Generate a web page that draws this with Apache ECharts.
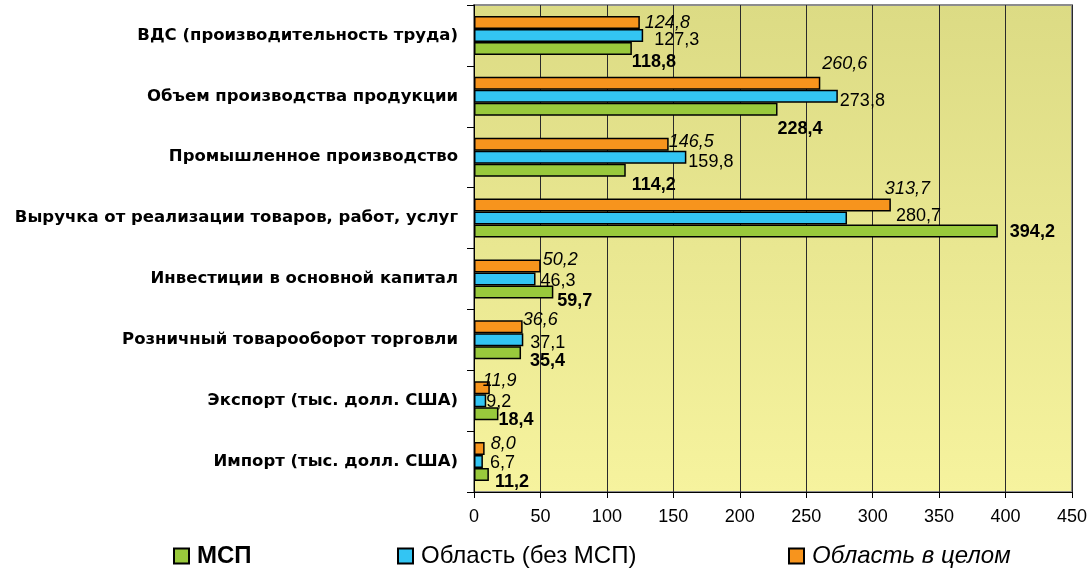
<!DOCTYPE html>
<html><head><meta charset="utf-8">
<script src="https://cdn.jsdelivr.net/npm/echarts@6/dist/echarts.min.js"></script>
<style>html,body{margin:0;padding:0;background:#fff}#c{width:1091px;height:568px}</style>
</head><body><div id="c"></div>
<script>
const categories = [
  'ВДС (производительность труда)',
  'Объем производства продукции',
  'Промышленное производство',
  'Выручка от реализации товаров, работ, услуг',
  'Инвестиции в основной капитал',
  'Розничный товарооборот торговли',
  'Экспорт (тыс. долл. США)',
  'Импорт (тыс. долл. США)'
];
const seriesNames = ['МСП', 'Область (без МСП)', 'Область в целом'];
const msp = [118.8, 228.4, 114.2, 394.2, 59.7, 35.4, 18.4, 11.2];
const regionNoMsp = [127.3, 273.8, 159.8, 280.7, 46.3, 37.1, 9.2, 6.7];
const regionTotal = [124.8, 260.6, 146.5, 313.7, 50.2, 36.6, 11.9, 8.0];
const xTicks = [0, 50, 100, 150, 200, 250, 300, 350, 400, 450];

// label placement tweaks (pixels), as in the original chart
const offsMsp = [[0, 14], [0, 20], [6, 15], [12, 1], [4, 9], [9, 8], [0, 6], [6, 7]];
const offsNoMsp = [[11, 5], [2, 5], [2, 5], [49, -2], [5, 2], [7, 3], [0, 1], [7, 1]];
const offsTotal = [[5, 1], [2, -19], [0, -2], [-6, -16], [2, -6], [0, -7], [-7, -7], [6, -5]];

const fmt = v => v.toFixed(1).replace('.', ',');
const font = '"Liberation Sans", Arial, sans-serif';

const mk = (values, offs) => values.map((v, i) => ({ value: v, label: { offset: offs[i] } }));

const chart = echarts.init(document.getElementById('c'));
const legendBase = (name, left, extra) => ({
  data: [name], left: left, top: 539,
  itemWidth: 15, itemHeight: 15, itemGap: 6, icon: 'rect',
  textStyle: Object.assign({ fontSize: 24, color: '#000', fontFamily: font, padding: [0, 0, 0, 3] }, extra || {})
});
chart.setOption({
  animation: false,
  textStyle: { fontFamily: font },
  grid: {
    left: 474, right: 19, top: 5, bottom: 76,
    show: true,
    borderColor: '#8c8c8c', borderWidth: 2,
    backgroundColor: new echarts.graphic.LinearGradient(0, 0, 0, 1, [
      { offset: 0, color: '#dcdb84' },
      { offset: 1, color: '#f6f39e' }
    ])
  },
  legend: [
    legendBase(seriesNames[0], 168, { fontWeight: 'bold' }),
    legendBase(seriesNames[1], 392),
    legendBase(seriesNames[2], 783, { fontStyle: 'italic' })
  ],
  xAxis: {
    type: 'value', min: xTicks[0], max: xTicks[xTicks.length - 1], interval: xTicks[1] - xTicks[0],
    axisLine: { show: true, lineStyle: { color: '#000', width: 1 } },
    axisTick: { show: true, length: 6, lineStyle: { color: '#000' } },
    axisLabel: { fontSize: 18, color: '#000', margin: 16, formatter: v => String(v) },
    splitLine: { show: true, lineStyle: { color: '#2a2a2a', width: 1 } }
  },
  yAxis: {
    type: 'category', data: categories, inverse: true,
    axisLine: { show: true, lineStyle: { color: '#000', width: 1 } },
    axisTick: { show: true, length: 7, lineStyle: { color: '#000' } },
    axisLabel: { fontSize: 16.5, fontWeight: 'bold', color: '#000', margin: 16, fontFamily: 'DejaVu Sans', padding: [6, 0, 0, 0] }
  },
  series: [
    {
      name: seriesNames[2], type: 'bar', data: mk(regionTotal, offsTotal),
      barWidth: 13, barGap: '0%',
      itemStyle: { color: '#f7941d', borderColor: '#000', borderWidth: 1.5 },
      label: { show: true, position: 'right', distance: 0, fontSize: 18, fontStyle: 'italic', color: '#000', formatter: p => fmt(p.value) }
    },
    {
      name: seriesNames[1], type: 'bar', data: mk(regionNoMsp, offsNoMsp),
      barWidth: 13, barGap: '0%',
      itemStyle: { color: '#33c5f3', borderColor: '#000', borderWidth: 1.5 },
      label: { show: true, position: 'right', distance: 0, fontSize: 18, color: '#000', formatter: p => fmt(p.value) }
    },
    {
      name: seriesNames[0], type: 'bar', data: mk(msp, offsMsp),
      barWidth: 13, barGap: '0%',
      itemStyle: { color: '#99c93c', borderColor: '#000', borderWidth: 1.5 },
      label: { show: true, position: 'right', distance: 0, fontSize: 18, fontWeight: 'bold', color: '#000', formatter: p => fmt(p.value) }
    }
  ]
});
</script></body></html>
